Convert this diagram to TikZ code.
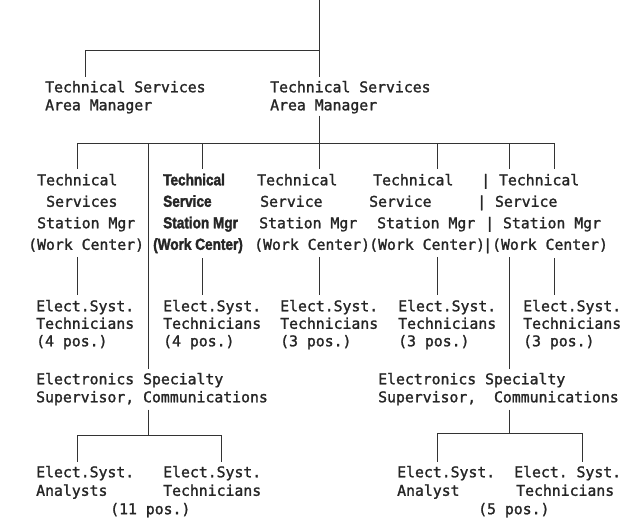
\documentclass[tikz,border=0pt]{standalone}
\usepackage{fontspec}
\setmonofont[FakeBold=1.5]{DejaVu Sans Mono}
\newfontfamily\boldfont[FakeStretch=0.85,FakeBold=2]{Liberation Sans}
\tikzstyle{unit}=[anchor=north west, inner sep=0pt, align=left, text=black!85, font=\ttfamily\fontsize{14.8}{18}\selectfont]
\tikzstyle{station}=[unit, font=\ttfamily\fontsize{14.8}{21.5}\selectfont]
\tikzstyle{boldstation}=[unit, font=\boldfont\bfseries\fontsize{16}{21.5}\selectfont]
\tikzstyle{tech}=[unit, font=\ttfamily\fontsize{14.8}{17.5}\selectfont]
\tikzstyle{bottomunit}=[unit, font=\ttfamily\fontsize{14.8}{18.5}\selectfont]
\tikzstyle{edge} = [draw, line width=0.9pt, black!80]

\begin{document}
\begin{tikzpicture}[x=1pt, y=-1pt]
    \useasboundingbox (0,0) rectangle (624,525);

    % area managers
    \foreach \x/\name/\txt in {45/am1/{Technical Services\\Area Manager}, 270/am2/{Technical Services\\Area Manager}}
        \node[unit] (\name) at (\x,80.75) {\txt};

    % station managers
    \node[station] (sm1) at (28,173.75) {\hspace*{9pt}Technical\\\hspace*{18pt}Services\\\hspace*{9pt}Station Mgr\\(Work Center)};
    \node[boldstation] (sm2) at (153,173.5) {\hspace*{10pt}Technical\\\hspace*{10pt}Service\\\hspace*{10pt}Station Mgr\\(Work Center)};
    \node[station] (sm3) at (254,173.75) {\hspace*{3pt}Technical\\\hspace*{6pt}Service\\\hspace*{5pt}Station Mgr\\(Work Center)};
    \node[station] (sm4) at (369,173.75) {\hspace*{4pt}Technical\\Service\\\hspace*{8pt}Station Mgr\\(Work Center)};
    \node[station] (sm5) at (477,173.75) {\hspace*{4pt}| Technical\\| Service\\\hspace*{8pt}| Station Mgr\\\hspace*{6pt}|(Work Center)};

    % technicians
    \foreach \x/\name/\npos in {36/t1/4, 163/t2/4, 280/t3/3, 398/t4/3, 523/t5/3}
        \node[tech] (\name) at (\x,299.75) {Elect.Syst.\\Technicians\\(\npos{} pos.)};

    % supervisors
    \node[unit] (supL) at (36,372.75) {Electronics Specialty\\Supervisor, Communications};
    \node[unit] (supR) at (378,372.75) {Electronics Specialty\\Supervisor,\ \ Communications};

    % analysts
    \foreach \x/\name/\txt in {36/a1/{Elect.Syst.\\Analysts}, 163/a2/{Elect.Syst.\\Technicians}, 397/a3/{Elect.Syst.\\Analyst}, 514/a4/{Elect. Syst.\\\hspace*{2pt}Technicians}}
        \node[bottomunit] (\name) at (\x,465.75) {\txt};
    \node[unit] (p1) at (110,502.75) {(11 pos.)};
    \node[unit] (p2) at (478,502.75) {(5 pos.)};

    % busses
    \coordinate (root) at (319,0);
    \coordinate (bus0) at (85,50);
    \coordinate (busA) at (77,143);
    \coordinate (busB) at (554,143);
    \coordinate (busL1) at (77,435);
    \coordinate (busL2) at (221,435);
    \coordinate (busR1) at (437,433);
    \coordinate (busR2) at (582,433);

    \path[edge, shorten >=4pt] (root) -- (root |- am2.north);
    \path[edge, shorten >=4pt] (root |- bus0) -- (bus0) -- (bus0 |- am1.north);
    \path[edge, shorten <=2pt] (root |- am2.south) -- (root |- busA);
    \path[edge] (busA) -- (busB);

    \foreach \x/\dest in {77/sm1, 202/sm2, 319/sm3, 437/sm4, 554/sm5, 509/sm5}
        \path[edge, shorten >=5pt] (\x,0 |- busA) -- (\x,0 |- \dest.north);

    \foreach \x/\source/\dest in {77/sm1/t1, 202/sm2/t2, 319/sm3/t3, 437/sm4/t4, 554/sm5/t5}
        \path[edge, shorten <=5pt, shorten >=5pt] (\x,0 |- \source.south) -- (\x,0 |- \dest.north);

    \path[edge, shorten >=4pt] (148,0 |- busA) -- (148,0 |- supL.north);
    \path[edge, shorten <=4pt, shorten >=4pt] (509,0 |- sm5.south) -- (509,0 |- supR.north);

    % lower busses
    \path[edge, shorten <=4pt] (148,0 |- supL.south) -- (148,0 |- busL1);
    \path[edge] (busL1) -- (busL2);
    \path[edge, shorten >=4pt] (busL1) -- (busL1 |- a1.north);
    \path[edge, shorten >=4pt] (busL2) -- (busL2 |- a2.north);

    \path[edge, shorten <=4pt] (509,0 |- supR.south) -- (509,0 |- busR1);
    \path[edge] (busR1) -- (busR2);
    \path[edge, shorten >=4pt] (busR1) -- (busR1 |- a3.north);
    \path[edge, shorten >=4pt] (busR2) -- (busR2 |- a4.north);

\end{tikzpicture}
\end{document}
